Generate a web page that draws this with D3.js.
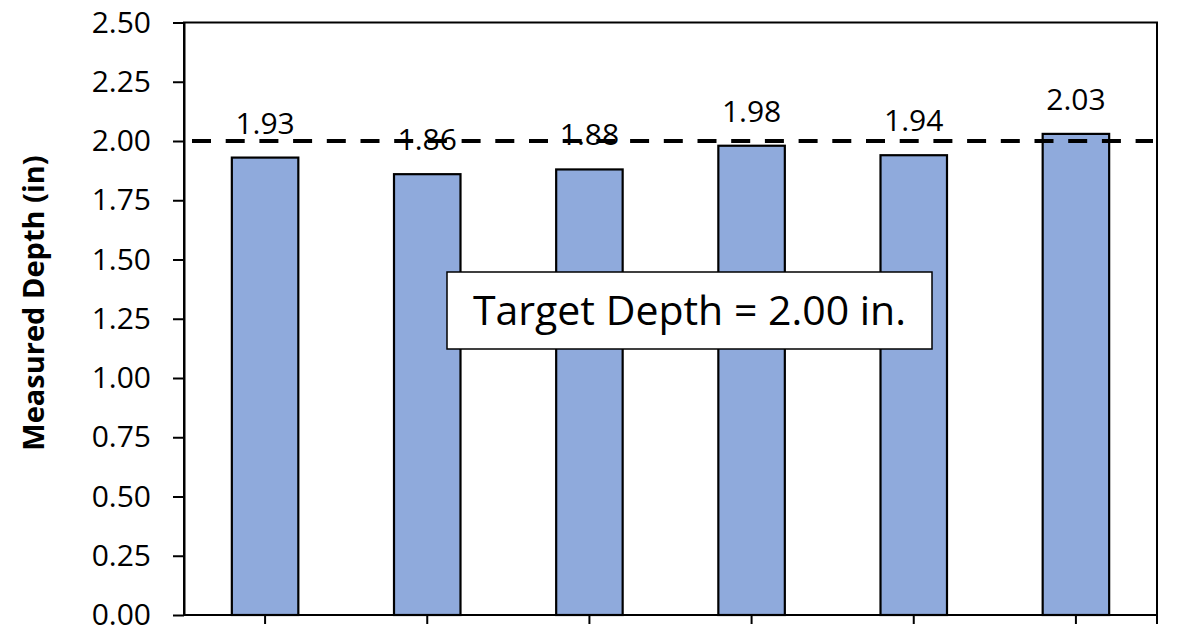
<!DOCTYPE html>
<html>
<head>
<meta charset="utf-8">
<script src="https://cdn.jsdelivr.net/npm/d3@7"></script>
<style>
  html, body { margin: 0; padding: 0; background: #fff; }
  svg { display: block; }
  text { font-family: "Open Sans", "Noto Sans", sans-serif; fill: #000; }
</style>
</head>
<body>
<svg id="chart" width="1179" height="631"></svg>
<script>
// Measured depth for each of the six samples
const samples = [1, 2, 3, 4, 5, 6];
const depths = [1.93, 1.86, 1.88, 1.98, 1.94, 2.03];
const yTicks = [0, 0.25, 0.5, 0.75, 1.0, 1.25, 1.5, 1.75, 2.0, 2.25, 2.5];
const targetDepth = 2.0;
const yTitle = "Measured Depth (in)";
const noteText = "Target Depth = 2.00 in.";

const svg = d3.select("#chart");
const plotLeft = 184, plotRight = 1157, plotTop = 22.5, plotBottom = 615;

const x = d3.scaleBand().domain(samples).range([plotLeft, plotRight]).paddingInner(0.59).paddingOuter(0.295);
const y = d3.scaleLinear().domain([0, 2.5]).range([plotBottom, plotTop]);

// Bars
svg.append("g").selectAll("rect").data(samples).join("rect")
  .attr("x", d => x(d))
  .attr("width", x.bandwidth())
  .attr("y", (d, i) => y(depths[i]))
  .attr("height", (d, i) => plotBottom - y(depths[i]))
  .attr("fill", "#8faadc")
  .attr("stroke", "#000")
  .attr("stroke-width", 2.2);

// Value labels
svg.append("g").selectAll("text").data(samples).join("text")
  .attr("x", d => x(d) + x.bandwidth() / 2)
  .attr("y", (d, i) => y(depths[i]) - 24)
  .attr("text-anchor", "middle")
  .style("font-size", "30px")
  .text((d, i) => depths[i].toFixed(2));

// Target depth reference line
svg.append("line")
  .attr("x1", plotLeft + 8).attr("x2", plotRight - 4)
  .attr("y1", y(targetDepth)).attr("y2", y(targetDepth))
  .attr("stroke", "#000")
  .attr("stroke-width", 4)
  .attr("stroke-dasharray", "19,14.7");

// Plot frame
svg.append("rect")
  .attr("x", plotLeft).attr("y", plotTop)
  .attr("width", plotRight - plotLeft).attr("height", plotBottom - plotTop)
  .attr("fill", "none").attr("stroke", "#000").attr("stroke-width", 2);

// Y axis
const yAxis = d3.axisLeft(y).tickValues(yTicks).tickFormat(d3.format(".2f")).tickSize(11).tickSizeOuter(0);
const gy = svg.append("g").attr("transform", `translate(${plotLeft},0)`).call(yAxis);
gy.select(".domain").attr("stroke-width", 2);
gy.selectAll(".tick line").attr("stroke-width", 2);
gy.selectAll(".tick text").attr("x", -33).style("font-size", "30px")
  .style("font-family", "'Open Sans', 'Noto Sans', sans-serif").attr("fill", "#000");

// X axis ticks (no labels)
const xTickPos = samples.map(d => x(d) + x.bandwidth() / 2).concat([plotRight]);
svg.append("g").selectAll("line").data(xTickPos).join("line")
  .attr("x1", d => d).attr("x2", d => d)
  .attr("y1", plotBottom).attr("y2", plotBottom + 9)
  .attr("stroke", "#000").attr("stroke-width", 2);

// Y axis title
svg.append("text")
  .attr("transform", `translate(44,303) rotate(-90)`)
  .attr("text-anchor", "middle")
  .style("font-size", "29px")
  .style("font-weight", "bold")
  .text(yTitle);

// Annotation box
const boxX = 447, boxY = 272, boxW = 485, boxH = 77;
svg.append("rect")
  .attr("x", boxX).attr("y", boxY).attr("width", boxW).attr("height", boxH)
  .attr("fill", "#fff").attr("stroke", "#000").attr("stroke-width", 1.5);
svg.append("text")
  .attr("x", boxX + boxW / 2).attr("y", 325)
  .attr("text-anchor", "middle")
  .style("font-size", "41px")
  .text(noteText);
</script>
</body>
</html>
